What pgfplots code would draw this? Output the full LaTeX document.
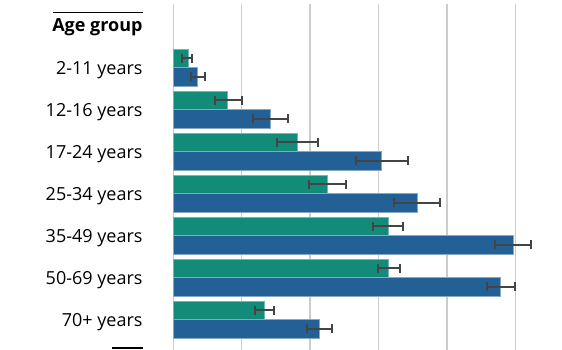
\documentclass[border=0pt]{standalone}
\usepackage{pgfplots}
\pgfplotsset{compat=1.18}
\usepackage{fontspec}
\setmainfont{Open Sans}
\definecolor{cgreen}{HTML}{128B78}
\definecolor{cblue}{HTML}{226095}
\definecolor{cerr}{HTML}{444444}
\definecolor{cgrid}{HTML}{CCCCCC}
\begin{document}
\begin{tikzpicture}
\begin{axis}[
  scale only axis,
  width=388.7pt, height=346pt,
  xmin=0, xmax=28.41,
  ymin=-1.512, ymax=6.726,
  y dir=reverse,
  axis line style={draw=none},
  xmajorgrids,
  xtick={0,5,10,15,20,25},
  xticklabels={},
  grid style={cgrid, line width=1.3pt},
  ytick={0,1,2,3,4,5,6},
  yticklabels={2-11 years,12-16 years,17-24 years,25-34 years,35-49 years,50-69 years,70+ years},
  yticklabel style={font=\fontsize{18}{21.6}\selectfont, inner sep=0pt, anchor=base east, xshift=-30.6pt, yshift=-6.5pt},
  major tick length=0pt,
  clip=false,
  every axis plot/.append style={
    xbar, bar shift=0pt, bar width=0.44,
  },
  errstyle/.style={
    error bars/.cd, x dir=both, x explicit,
    error bar style={draw=cerr, line width=2pt},
    error mark options={draw=cerr, rotate=90, mark size=4.6pt, line width=2pt},
  },
]
% green series
\addplot[fill=cgreen, draw=cgreen!60!white, line width=0.6pt, errstyle]
  table[x=x, y=y, x error plus=ep, x error minus=em] {
x y ep em
1.07 -0.22 0.32 0.41
3.97 0.78 1.03 0.92
9.06 1.78 1.52 1.50
11.24 2.78 1.36 1.30
15.75 3.78 1.04 1.13
15.75 4.78 0.85 0.81
6.65 5.78 0.73 0.70
};
% blue series
\addplot[fill=cblue, draw=cblue!55!white, line width=0.6pt, errstyle]
  table[x=x, y=y, x error plus=ep, x error minus=em] {
x y ep em
1.78 0.22 0.51 0.51
7.07 1.22 1.29 1.22
15.23 2.22 1.95 1.87
17.84 3.22 1.63 1.69
24.83 4.22 1.32 1.31
23.93 5.22 1.05 1.03
10.65 6.22 0.95 0.90
};
\end{axis}
\coordinate (SW) at (current axis.south west);
% header and rules
\node[anchor=base east, inner sep=0pt, font=\fontsize{18}{21.6}\selectfont\bfseries] at ([xshift=-30.6pt, yshift=318.3pt]SW) {Age group};
\draw[black, line width=1.5pt] ([xshift=-120.6pt, yshift=337.3pt]SW) -- ([xshift=-30.6pt, yshift=337.3pt]SW);
\draw[black, line width=2pt] ([xshift=-61.3pt, yshift=1.5pt]SW) -- ([xshift=-30.6pt, yshift=1.5pt]SW);
\pgfresetboundingbox
\path ([xshift=-173.3pt]SW) rectangle ([xshift=388.7pt, yshift=350pt]SW);
\end{tikzpicture}
\end{document}
